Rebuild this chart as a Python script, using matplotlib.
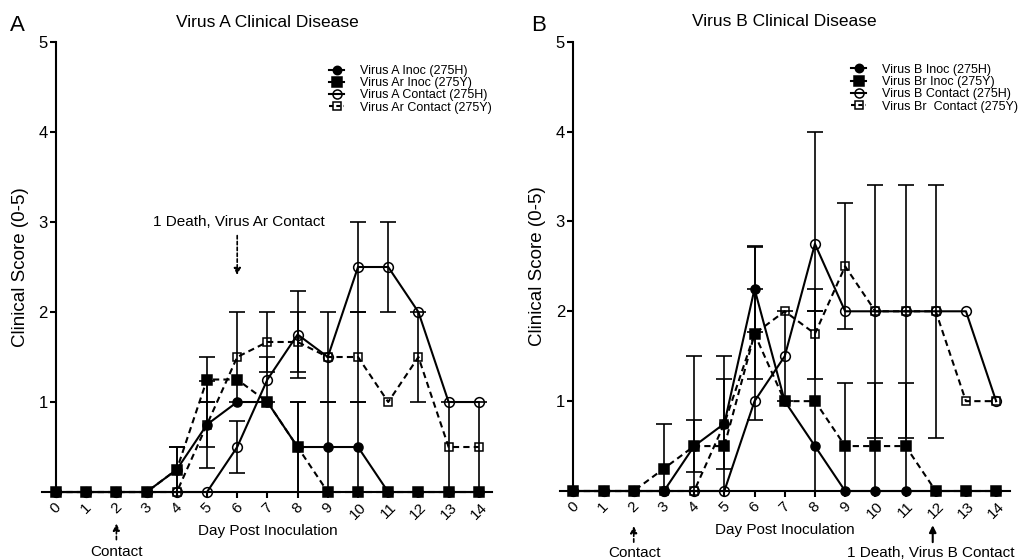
import matplotlib.pyplot as plt
from matplotlib.lines import Line2D
import numpy as np

plt.rcParams['font.family'] = ['Liberation Sans', 'DejaVu Sans']

days = np.arange(15)

# Panel A, Virus A
a_inoc = [0, 0, 0, 0, 0.25, 0.75, 1.0, 1.0, 0.5, 0.5, 0.5, 0, 0, 0, 0]
a_inoc_sd = [0, 0, 0, 0, 0.25, 0.48, 0, 0, 0.5, 0.5, 0.5, 0, 0, 0, 0]
ar_inoc = [0, 0, 0, 0, 0.25, 1.25, 1.25, 1.0, 0.5, 0, 0, 0, 0, 0, 0]
ar_inoc_sd = [0, 0, 0, 0, 0.25, 0.25, 0, 0, 0.5, 0, 0, 0, 0, 0, 0]
a_contact = [0, 0, 0, 0, 0, 0, 0.5, 1.25, 1.75, 1.5, 2.5, 2.5, 2.0, 1.0, 1.0]
a_contact_sd = [0, 0, 0, 0, 0, 0, 0.29, 0.25, 0.48, 0.5, 0.5, 0.5, 0, 0, 0]
ar_contact = [0, 0, 0, 0, 0, 0.75, 1.5, 1.667, 1.667, 1.5, 1.5, 1.0, 1.5, 0.5, 0.5]
ar_contact_sd = [0, 0, 0, 0, 0, 0.25, 0.5, 0.333, 0.333, 0, 0.5, 0, 0.5, 0.5, 0.5]

# Panel B, Virus B
b_inoc = [0, 0, 0, 0, 0.5, 0.75, 2.25, 1.0, 0.5, 0, 0, 0, 0, 0, 0]
b_inoc_sd = [0, 0, 0, 0, 0.29, 0.5, 0.48, 0, 0, 0, 0, 0, 0, 0, 0]
br_inoc = [0, 0, 0, 0.25, 0.5, 0.5, 1.75, 1.0, 1.0, 0.5, 0.5, 0.5, 0, 0, 0]
br_inoc_sd = [0, 0, 0, 0.5, 1.0, 1.0, 0.96, 0, 1.0, 0.7, 0.7, 0.7, 0, 0, 0]
b_contact = [0, 0, 0, 0, 0, 0, 1.0, 1.5, 2.75, 2.0, 2.0, 2.0, 2.0, 2.0, 1.0]
b_contact_sd = [0, 0, 0, 0, 0, 0, 0, 0.5, 1.25, 0, 1.41, 1.41, 1.41, 0, 0]
b_contact_lo = [0, 0, 0, 0, 0, 0, 0, 0.5, 0.75, 0, 1.41, 1.41, 1.41, 0, 0]
br_contact = [0, 0, 0, 0, 0, 0.75, 1.75, 2.0, 1.75, 2.5, 2.0, 2.0, 2.0, 1.0, 1.0]
br_contact_sd = [0, 0, 0, 0, 0, 0, 0.5, 0, 0.5, 0.7, 0, 0, 0, 0, 0]

styles = {
    'inoc': dict(marker='o', ms=6.5, mfc='k', ls='-'),
    'r_inoc': dict(marker='s', ms=7, mfc='k', ls=(0, (3, 2))),
    'contact': dict(marker='o', ms=7, mfc='none', ls='-'),
    'r_contact': dict(marker='s', ms=6, mfc='none', ls=(0, (3, 2))),
}
legend_ls = {'inoc': '-', 'r_inoc': '-', 'contact': '-', 'r_contact': (0, (2, 1.5))}


def draw_panel(ax, series, title, legend_pos):
    # error bars first, only where there is a spread
    for key, vals, hi, lo, label in series:
        vals = np.array(vals, float)
        hi = np.array(hi, float)
        lo = np.minimum(np.array(lo, float), vals)
        m = hi > 0
        ax.errorbar(days[m], vals[m], yerr=[lo[m], hi[m]], fmt='none',
                    ecolor='k', elinewidth=1.2, capsize=6, capthick=1.2,
                    clip_on=False, zorder=2)
    order = ['r_contact', 'contact', 'inoc', 'r_inoc']
    for key in order:
        for k, vals, hi, lo, label in series:
            if k != key:
                continue
            st = styles[k]
            ax.plot(days, vals, color='k', lw=1.5, ls=st['ls'],
                    marker=st['marker'], ms=st['ms'], mfc=st['mfc'],
                    mec='k', mew=1.1, clip_on=False, zorder=3)

    handles = []
    labels = []
    for k, vals, hi, lo, label in series:
        st = styles[k]
        handles.append(Line2D([], [], color='k', lw=1.5, ls=legend_ls[k],
                              marker=st['marker'], ms=st['ms'] - 0.5, mfc=st['mfc'],
                              mec='k', mew=1.1))
        labels.append(label)
    ax.legend(handles, labels, loc='upper left', bbox_to_anchor=legend_pos,
              bbox_transform=ax.figure.transFigure, frameon=False, fontsize=9,
              handlelength=1.2, handletextpad=1.25, labelspacing=0.02,
              borderpad=0, borderaxespad=0)

    ax.set_xlim(-0.45, 14.45)
    ax.set_ylim(0, 5)
    ax.spines['left'].set_position(('data', 0))
    for s in ['top', 'right']:
        ax.spines[s].set_visible(False)
    for s in ['left', 'bottom']:
        ax.spines[s].set_linewidth(1.5)
    ax.set_yticks([1, 2, 3, 4, 5])
    ax.set_yticklabels(['1', '2', '3', '4', '5'], fontsize=12)
    ax.set_xticks(days)
    ax.set_xticklabels([str(d) for d in days], fontsize=11, rotation=45, ha='center')
    ax.tick_params(width=1.5, length=4, pad=2)
    ax.set_xlabel('Day Post Inoculation', fontsize=11, labelpad=1)
    ax.set_ylabel('Clinical Score (0-5)', fontsize=13.5, labelpad=7)
    ax.set_title(title, fontsize=12.5, pad=11)


fig = plt.figure(figsize=(10.22, 5.6), dpi=100)
axA = fig.add_axes([0.0415, 0.1214, 0.4403, 0.8036])
axB = fig.add_axes([0.5477, 0.1232, 0.4403, 0.8023])

draw_panel(axA, [
    ('inoc', a_inoc, a_inoc_sd, a_inoc_sd, 'Virus A Inoc (275H)'),
    ('r_inoc', ar_inoc, ar_inoc_sd, ar_inoc_sd, 'Virus Ar Inoc (275Y)'),
    ('contact', a_contact, a_contact_sd, a_contact_sd, 'Virus A Contact (275H)'),
    ('r_contact', ar_contact, ar_contact_sd, ar_contact_sd, 'Virus Ar Contact (275Y)'),
], 'Virus A Clinical Disease', (0.322, 0.884))

draw_panel(axB, [
    ('inoc', b_inoc, b_inoc_sd, b_inoc_sd, 'Virus B Inoc (275H)'),
    ('r_inoc', br_inoc, br_inoc_sd, br_inoc_sd, 'Virus Br Inoc (275Y)'),
    ('contact', b_contact, b_contact_sd, b_contact_lo, 'Virus B Contact (275H)'),
    ('r_contact', br_contact, br_contact_sd, br_contact_sd, 'Virus Br  Contact (275Y)'),
], 'Virus B Clinical Disease', (0.833, 0.886))

dashed = dict(arrowstyle='-|>', color='k', lw=1.2, ls=(0, (2, 1.5)), mutation_scale=10)
solid = dict(arrowstyle='-|>', color='k', lw=1.5, mutation_scale=10)

axA.annotate('', xy=(6, 2.38), xytext=(6, 2.88), arrowprops=dashed)
axA.text(6.05, 3.0, '1 Death, Virus Ar Contact', ha='center', va='center', fontsize=11)
axA.annotate('', xy=(2, -0.32), xytext=(2, -0.56), arrowprops=dashed,
             annotation_clip=False)
axA.text(2, -0.67, 'Contact', ha='center', va='center', fontsize=11, clip_on=False)

axB.annotate('', xy=(2, -0.36), xytext=(2, -0.6), arrowprops=dashed,
             annotation_clip=False)
axB.text(2.04, -0.69, 'Contact', ha='center', va='center', fontsize=11, clip_on=False)
axB.annotate('', xy=(11.9, -0.35), xytext=(11.9, -0.6), arrowprops=solid,
             annotation_clip=False)
axB.text(11.83, -0.69, '1 Death, Virus B Contact', ha='center', va='center',
         fontsize=11, clip_on=False)

fig.text(0.0098, 0.955, 'A', fontsize=16, va='center', ha='left')
fig.text(0.52, 0.955, 'B', fontsize=16, va='center', ha='left')

fig.savefig('out.png', dpi=100)
